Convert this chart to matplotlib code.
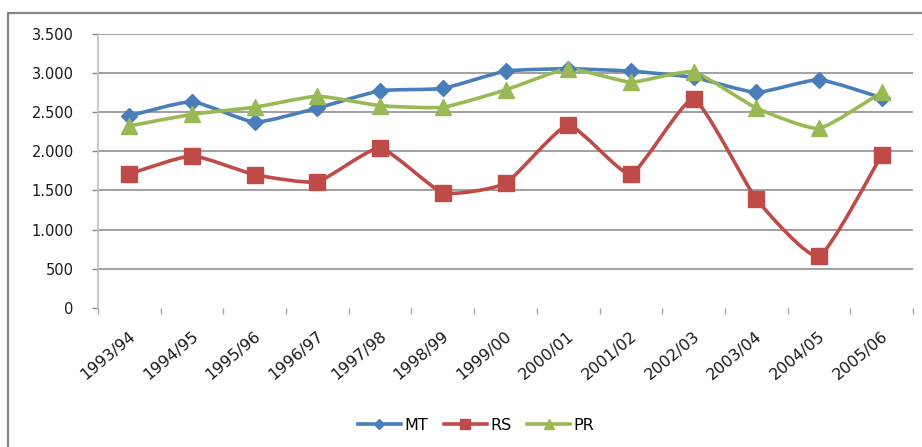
import numpy as np
import matplotlib
matplotlib.use("Agg")
import matplotlib.pyplot as plt
from matplotlib.path import Path
from matplotlib.patches import PathPatch, Rectangle
from matplotlib.lines import Line2D
from matplotlib.ticker import FuncFormatter, FixedLocator
import matplotlib.transforms as mtransforms

categories = ["1993/94", "1994/95", "1995/96", "1996/97", "1997/98", "1998/99",
              "1999/00", "2000/01", "2001/02", "2002/03", "2003/04", "2004/05", "2005/06"]
mt = [2450, 2630, 2370, 2550, 2770, 2800, 3020, 3050, 3020, 2940, 2750, 2910, 2680]
rs = [1710, 1940, 1700, 1610, 2040, 1470, 1590, 2330, 1710, 2660, 1390, 660, 1950]
pr = [2320, 2470, 2560, 2700, 2580, 2560, 2780, 3050, 2880, 3010, 2550, 2290, 2750]
series_names = ["MT", "RS", "PR"]
yticks = [0, 500, 1000, 1500, 2000, 2500, 3000, 3500]

colors = ["#4A7EBB", "#BE4B48", "#98B954"]
markers = ["D", "s", "^"]
msizes = [8, 11, 11]

W, H = 922, 447
fig = plt.figure(figsize=(W / 100, H / 100), dpi=100)
ax = fig.add_axes([98 / W, 1 - 308 / H, (913 - 98) / W, (308 - 33.5) / H])

# outer chart frame
fig.patches.append(Rectangle((8 / W, -0.1), 1.2, 1 - 13 / H + 0.1, transform=fig.transFigure,
                             fill=False, edgecolor="#868686", linewidth=1.6))

x = np.arange(len(categories))


def smooth_path(xs, ys, k=1 / 12.0):
    P = np.column_stack([xs, ys]).astype(float)
    n = len(P)
    verts = [P[0]]
    codes = [Path.MOVETO]
    for i in range(n - 1):
        p0 = P[max(i - 1, 0)]
        p3 = P[min(i + 2, n - 1)]
        c1 = P[i] + (P[i + 1] - p0) * k
        c2 = P[i + 1] - (p3 - P[i]) * k
        verts += [c1, c2, P[i + 1]]
        codes += [Path.CURVE4] * 3
    return Path(verts, codes)


handles = []
for vals, name, c, m, ms in zip([mt, rs, pr], series_names, colors, markers, msizes):
    patch = PathPatch(smooth_path(x, vals), fill=False, edgecolor=c, linewidth=2.6,
                      capstyle="round", joinstyle="round", zorder=3)
    ax.add_patch(patch)
    ax.plot(x, vals, linestyle="none", marker=m, markersize=ms, color=c,
            markeredgecolor=c, zorder=4)
    handles.append(Line2D([], [], color=c, linewidth=2.6, marker=m, markersize=ms * 0.7,
                          markeredgecolor=c, label=name))

ax.set_xlim(-0.5, len(categories) - 0.5)
ax.set_ylim(0, 3500)
ax.yaxis.set_major_locator(FixedLocator(yticks))
ax.yaxis.set_major_formatter(FuncFormatter(lambda v, p: f"{int(v):,}".replace(",", ".")))
ax.tick_params(axis="y", direction="out", length=4.5, width=1, color="#868686",
               pad=13, labelsize=10.5, labelcolor="#1a1a1a")

ax.xaxis.set_major_locator(FixedLocator(np.arange(-0.5, len(categories), 1.0)))
ax.xaxis.set_major_formatter(FuncFormatter(lambda v, p: ""))
ax.xaxis.set_minor_locator(FixedLocator(x))
ax.set_xticklabels(categories, minor=True)
ax.tick_params(axis="x", which="major", direction="out", length=4, width=1, color="#A6A6A6")
ax.tick_params(axis="x", which="minor", length=0, pad=19, labelsize=11.5, labelcolor="#1a1a1a")
offset = mtransforms.ScaledTranslation(4 / 100, 0, fig.dpi_scale_trans)
for lab in ax.get_xticklabels(minor=True):
    lab.set_rotation(40)
    lab.set_ha("right")
    lab.set_va("center")
    lab.set_rotation_mode("anchor")
    lab.set_transform(lab.get_transform() + offset)

ax.yaxis.grid(True, color="#868686", linewidth=1.1)
ax.set_axisbelow(True)
for gl, t in zip(ax.get_ygridlines(), yticks):
    if t == 0:
        gl.set_visible(False)

for s in ["top", "right", "bottom"]:
    ax.spines[s].set_visible(False)
ax.spines["left"].set_color("#BFBFBF")
ax.spines["left"].set_linewidth(1.2)

fig.legend(handles=handles, loc="center", bbox_to_anchor=(476 / W, 1 - 425 / H), ncol=3,
           frameon=False, fontsize=11.5, handlelength=2.7, handletextpad=0.2,
           columnspacing=1.0)

fig.savefig("out.png", dpi=100)
